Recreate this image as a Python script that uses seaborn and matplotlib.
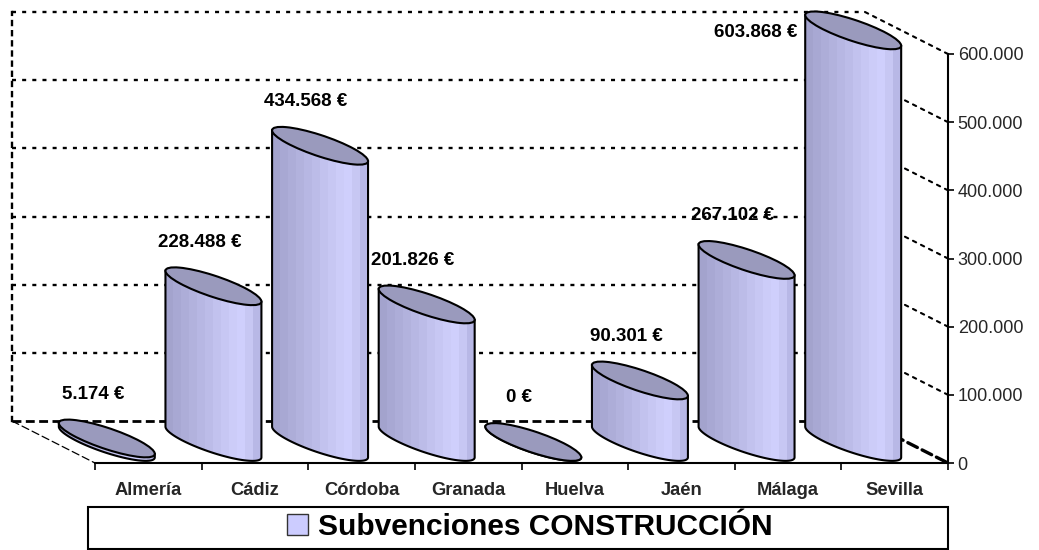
import numpy as np
import pandas as pd
import matplotlib
matplotlib.use('Agg')
import matplotlib.pyplot as plt
import seaborn as sns
from matplotlib.patches import Ellipse, Polygon, Rectangle, Patch, ConnectionPatch
from matplotlib.transforms import Affine2D
from matplotlib.ticker import FuncFormatter

# data
provincias = ['Almería', 'Cádiz', 'Córdoba', 'Granada', 'Huelva', 'Jaén', 'Málaga', 'Sevilla']
subvenciones = [5174, 228488, 434568, 201826, 0, 90301, 267102, 603868]
y_ticks = [0, 100000, 200000, 300000, 400000, 500000, 600000]
serie = 'Subvenciones CONSTRUCCIÓN'

# cylinder shading, left to right
stripes = ['#A3A3CD', '#A8A8D3', '#ADADD8', '#B2B2DD', '#B7B7E3', '#BCBCE8',
           '#C2C2EE', '#C7C7F3', '#CCCCF8', '#CFCFFC', '#C7C7F3', '#B8B8E6']
top_color = '#9A9ABD'

DOTS = (0, (1.7, 2.6))
FLOOR = (0, (3.2, 1.6))

sns.set_theme(style='white')
plt.rcParams['font.family'] = ['Liberation Sans', 'DejaVu Sans']
plt.rcParams['text.color'] = 'black'

W, H = 1039, 550
fig = plt.figure(figsize=(W / 100, H / 100), dpi=100)
fig.patch.set_facecolor('white')

PX_PER_UNIT = 409 / 600000


def px_axes(left, top, right, bottom):
    return fig.add_axes([left / W, 1 - bottom / H, (right - left) / W, (bottom - top) / H])


def thousands(v, pos=None):
    return f'{v:,.0f}'.replace(',', '.')


# back wall (gridlines)
back = px_axes(12, 12, 865, 421)
back.set_zorder(0)
back.set_xlim(-0.5, 7.5)
back.set_ylim(0, 600000)
back.tick_params(length=0, labelleft=False, labelbottom=False)
back.grid(False)
for v in y_ticks:
    if v:
        back.axhline(v, color='black', linestyle=DOTS, linewidth=1.7, clip_on=False)
    else:
        back.axhline(v, color='black', linestyle=FLOOR, linewidth=2.0, clip_on=False)
for s in ['top', 'right', 'bottom']:
    back.spines[s].set_visible(False)
back.spines['left'].set_linestyle(DOTS)
back.spines['left'].set_linewidth(1.7)
back.spines['left'].set_color('black')

# front plane (axes, ticks, labels)
front = px_axes(95, 54, 948, 463)
front.set_zorder(2)
front.patch.set_alpha(0)
front.set_xlim(-0.5, 7.5)
front.set_ylim(0, 600000)
front.yaxis.tick_right()
front.set_yticks(y_ticks)
front.yaxis.set_major_formatter(FuncFormatter(thousands))
front.tick_params(axis='y', which='major', right=True, left=False, direction='out',
                  length=4, width=1.2, color='black', pad=3, labelsize=13)
front.set_xticks(range(len(provincias)))
front.set_xticklabels(provincias, fontweight='bold', fontsize=13.2)
front.set_xticks(np.arange(-0.5, len(provincias)), minor=True)
front.tick_params(axis='x', which='major', length=0, pad=14)
front.tick_params(axis='x', which='minor', bottom=True, direction='out', length=5,
                  width=1.2, color='black')
for s in ['top', 'left']:
    front.spines[s].set_visible(False)
for s in ['right', 'bottom']:
    front.spines[s].set_color('black')
    front.spines[s].set_linewidth(1.5)

# side edges joining back wall and front plane
for v in y_ticks:
    style = dict(linestyle=DOTS, linewidth=1.5) if v else dict(linestyle=FLOOR, linewidth=2.4)
    con = ConnectionPatch(xyA=(7.5, v), coordsA=back.transData, xyB=(7.5, v),
                          coordsB=front.transData, color='black', clip_on=False, **style)
    back.add_artist(con)
back.add_artist(ConnectionPatch(xyA=(-0.5, 0), coordsA=back.transData, xyB=(-0.5, 0),
                                coordsB=front.transData, color='black', linewidth=0.9,
                                linestyle=(0, (6, 3)), clip_on=False))

# middle plane with the cylinders
y_lo, y_hi = -90000, 720000
mid = px_axes(53.5, 442 - y_hi * PX_PER_UNIT, 906.5, 442 - y_lo * PX_PER_UNIT)
mid.set_zorder(1)
mid.patch.set_alpha(0)

df = pd.DataFrame({'provincia': provincias, 'importe': subvenciones})
sns.barplot(data=df, x='provincia', y='importe', ax=mid, color=stripes[8],
            saturation=1, width=0.9)
mid.set_xlim(-0.5, 7.5)
mid.set_ylim(y_lo, y_hi)
mid.axis('off')

k = 0.32           # slope of the tilted tops
hh = 22 / PX_PER_UNIT  # ellipse thickness in data units
grad = np.array([[matplotlib.colors.to_rgb(c) for c in stripes]])

bars = list(mid.patches)
for p, val in zip(bars, subvenciones):
    x0, w, h = p.get_x(), p.get_width(), p.get_height()
    cx = x0 + w / 2
    p.set_visible(False)
    bx, by = mid.transData.transform((cx, 0))
    shear = mid.transData + Affine2D().translate(-bx, -by).skew(0, np.arctan(-k)).translate(bx, by)

    t = np.linspace(np.pi, 2 * np.pi, 80)
    arc = np.column_stack([cx + w / 2 * np.cos(t), hh / 2 * np.sin(t)])
    pts = np.vstack([[x0, h], arc, [x0 + w, h]])
    body = Polygon(pts, closed=True, transform=shear, facecolor=stripes[6],
                   edgecolor='none', zorder=2)
    mid.add_patch(body)
    im = mid.imshow(grad, extent=(x0, x0 + w, -80000, h + 80000), aspect='auto',
                    interpolation='nearest', zorder=2.5)
    im.set_clip_path(body)
    mid.add_patch(Polygon(pts, closed=True, transform=shear, facecolor='none',
                          edgecolor='black', linewidth=1.5, zorder=3))
    mid.add_patch(Ellipse((cx, h), w, hh, transform=shear, facecolor=top_color,
                          edgecolor='black', linewidth=1.5, zorder=4))

    label = thousands(val) + ' €'
    top_y = mid.transData.transform((cx, h))[1]
    if top_y + 58 > H:
        half_px = w / 2 * (mid.transData.transform((1, 0))[0] - mid.transData.transform((0, 0))[0])
        mid.annotate(label, (cx, h), xytext=(-half_px - 8, -2), textcoords='offset pixels',
                     ha='right', va='center', fontsize=13.5, fontweight='bold', zorder=5)
    else:
        mid.annotate(label, (cx, h), xytext=(-14, 44), textcoords='offset pixels',
                     ha='center', va='center', fontsize=13.5, fontweight='bold', zorder=5)

mid.set_xlim(-0.5, 7.5)
mid.set_ylim(y_lo, y_hi)

# legend box
fig.add_artist(Rectangle((88 / W, 1 - 549 / H), (948 - 88) / W, (549 - 507) / H,
                         transform=fig.transFigure, fill=False, edgecolor='black',
                         linewidth=1.5))
fig.legend(handles=[Patch(facecolor='#CCCCFF', edgecolor='#333333', linewidth=1)],
           labels=[serie], loc='center', bbox_to_anchor=(530 / W, 1 - 527 / H),
           bbox_transform=fig.transFigure, frameon=False,
           prop={'weight': 'bold', 'size': 21.5}, handlelength=0.7, handleheight=0.7,
           handletextpad=0.35, borderpad=0)

fig.savefig('out.png', dpi=100)
